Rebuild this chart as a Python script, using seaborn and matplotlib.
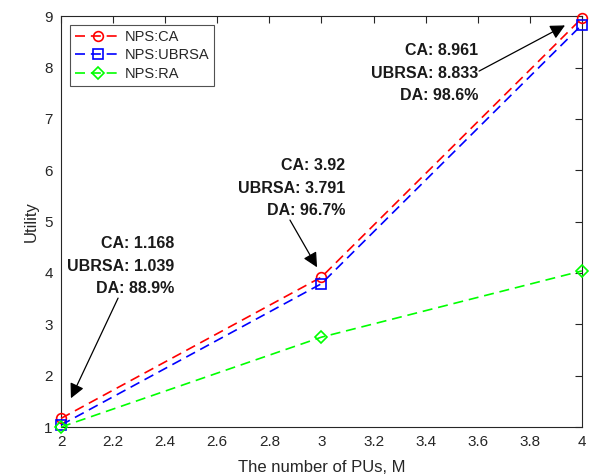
import matplotlib
matplotlib.use("Agg")
import matplotlib.pyplot as plt
import seaborn as sns
import pandas as pd

# data
num_pus = [2, 3, 4]
util_ca = [1.168, 3.92, 8.961]
util_ubrsa = [1.039, 3.791, 8.833]
util_ra = [1.0, 2.75, 4.04]
da_pct = [88.9, 96.7, 98.6]

x_ticks = [2, 2.2, 2.4, 2.6, 2.8, 3, 3.2, 3.4, 3.6, 3.8, 4]
y_ticks = [1, 2, 3, 4, 5, 6, 7, 8, 9]

sns.set_style("white")
plt.rcParams['font.family'] = ['Liberation Sans', 'DejaVu Sans']

fig = plt.figure(figsize=(5.89, 4.75), dpi=100)
ax = fig.add_axes([0.1036, 0.101, 0.8844, 0.865])

series = [
    ('NPS:CA', util_ca, '#ff0000', 'o'),
    ('NPS:UBRSA', util_ubrsa, '#0000ff', 's'),
    ('NPS:RA', util_ra, '#00ff00', 'D'),
]
for name, vals, col, mk in series:
    sns.lineplot(x=num_pus, y=vals, ax=ax, color=col, marker=mk, label=name,
                 linewidth=1.2, dashes=False, markersize=7 if mk != 'D' else 6,
                 markerfacecolor='none', markeredgecolor=col, markeredgewidth=1.2,
                 clip_on=False, zorder=5)
for line in ax.get_lines():
    line.set_dashes((6, 3.5))

ax.set_xlim(2, 4)
ax.set_ylim(1, 9)
ax.set_xticks(x_ticks)
ax.set_xticklabels([f'{t:g}' for t in x_ticks])
ax.set_yticks(y_ticks)
ax.tick_params(direction='in', length=5, width=0.8, colors='#262626',
               labelsize=11, top=True, right=True, pad=6)
for sp in ax.spines.values():
    sp.set_color('#262626')
    sp.set_linewidth(0.8)
ax.set_xlabel('The number of PUs, M', fontsize=12, color='#262626', labelpad=8)
ax.set_ylabel('Utility', fontsize=12, color='#262626', labelpad=4)

leg = ax.legend(loc='upper left', fontsize=10.5, frameon=True, fancybox=False,
                edgecolor='#262626', borderpad=0.35, handlelength=3.2,
                labelspacing=0.3, borderaxespad=0.6, handletextpad=0.2)
leg.get_frame().set_linewidth(0.8)
for h in leg.get_lines():
    h.set_dashes((6, 3.5))

# annotations: text anchor (right edge, middle line), arrow tail, arrow head
notes = [
    ((2.434, 4.13), (2.219, 3.51), (2.038, 1.56)),
    ((3.090, 5.65), (2.879, 5.03), (2.983, 4.11)),
    ((3.601, 7.89), (3.605, 7.93), (3.935, 8.82)),
]
for i, ((tx, ty), tail, head) in enumerate(notes):
    txt = f'CA: {util_ca[i]:g}\nUBRSA: {util_ubrsa[i]:g}\nDA: {da_pct[i]:g}%'
    ax.text(tx, ty, txt, ha='right', va='center', fontsize=11.5,
            fontweight='bold', linespacing=1.62, color='#1a1a1a')
    ax.annotate('', xy=head, xytext=tail,
                arrowprops=dict(arrowstyle='-|>', color='k', lw=0.9,
                                mutation_scale=22, shrinkA=0, shrinkB=0))

fig.savefig('out.png', dpi=100)
